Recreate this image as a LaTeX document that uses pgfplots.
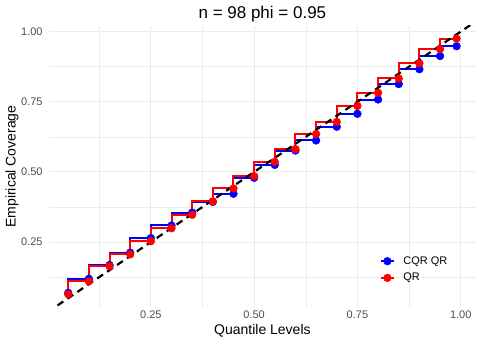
\documentclass[border=0pt]{standalone}
\usepackage{fontspec}
\setmainfont{Liberation Sans}
\usepackage{pgfplots}
\usepackage{pgfplotstable}
\pgfplotsset{compat=1.18}

\definecolor{gridgray}{RGB}{235,235,235}
\definecolor{ticktext}{RGB}{77,77,77}

% quantile level, coverage of CQR QR, coverage of QR
\pgfplotstableread{
q    cqr   qr
0.05 0.069 0.064
0.10 0.119 0.110
0.15 0.168 0.164
0.20 0.212 0.206
0.25 0.264 0.253
0.30 0.309 0.299
0.35 0.355 0.347
0.40 0.393 0.395
0.45 0.422 0.441
0.50 0.479 0.485
0.55 0.525 0.536
0.60 0.576 0.581
0.65 0.612 0.635
0.70 0.661 0.678
0.75 0.707 0.735
0.80 0.758 0.782
0.85 0.813 0.833
0.90 0.866 0.887
0.95 0.913 0.938
0.99 0.948 0.975
}\coverage

\begin{document}
\begin{tikzpicture}
\useasboundingbox (-48.8pt,-37pt) rectangle (433.2pt,307pt);
\begin{axis}[
    at={(0,0)}, anchor=south west,
    scale only axis, width=427.2pt, height=281pt,
    xmin=0.003, xmax=1.037, ymin=0.0185, ymax=1.02,
    axis line style={draw=none},
    major tick length=0pt, minor tick length=0pt,
    xtick={0.25,0.5,0.75,1}, xticklabels={0.25,0.50,0.75,1.00},
    ytick={0.25,0.5,0.75,1}, yticklabels={0.25,0.50,0.75,1.00},
    minor xtick={0.125,0.375,0.625,0.875},
    minor ytick={0.125,0.375,0.625,0.875},
    grid=both,
    major grid style={gridgray, line width=0.9pt},
    minor grid style={gridgray, line width=0.45pt},
    tick label style={font=\fontsize{11}{13}\selectfont, text=ticktext},
    xticklabel style={anchor=north, inner sep=0pt, yshift=-4pt},
    yticklabel style={anchor=east, inner sep=0pt, xshift=-6pt},
    xlabel={Quantile Levels}, ylabel={Empirical Coverage},
    xlabel style={at={(axis description cs:0.5,-0.085)}, anchor=center,
        font=\fontsize{14}{16}\selectfont},
    ylabel style={at={(axis description cs:-0.086,0.5)}, anchor=center,
        font=\fontsize{14}{16}\selectfont},
    title={n = 98 phi = 0.95},
    title style={at={(axis description cs:0.5,1.021)}, anchor=center,
        font=\fontsize{17}{20}\selectfont},
    legend style={at={(axis description cs:0.7737,0.1815)}, anchor=north west,
        draw=none, fill=none, font=\fontsize{11}{13}\selectfont,
        inner sep=0pt, row sep=6.7pt, column sep=8pt,
        nodes={inner sep=0pt, text height=8pt, text depth=2pt}},
    legend cell align=left,
]

\addplot[blue, line width=2pt, const plot mark right, forget plot]
    table[x=q, y=cqr] {\coverage};
\addplot[red, line width=2pt, const plot mark right, forget plot]
    table[x=q, y=qr] {\coverage};

\addplot[blue, only marks, mark=*, mark size=3.9pt,
    legend image code/.code={
        \draw[line width=2.4pt] (0pt,0pt) -- (13.4pt,0pt);
        \fill (6.7pt,0pt) circle (3.9pt);}]
    table[x=q, y=cqr] {\coverage};
\addlegendentry{CQR QR}
\addplot[red, only marks, mark=*, mark size=3.9pt,
    legend image code/.code={
        \draw[line width=2.4pt] (0pt,0pt) -- (13.4pt,0pt);
        \fill (6.7pt,0pt) circle (3.9pt);}]
    table[x=q, y=qr] {\coverage};
\addlegendentry{QR}

\addplot[black, line width=2.2pt, dash pattern=on 7pt off 5pt, forget plot]
    coordinates {(0,0) (1.1,1.1)};

\end{axis}
\end{tikzpicture}
\end{document}
